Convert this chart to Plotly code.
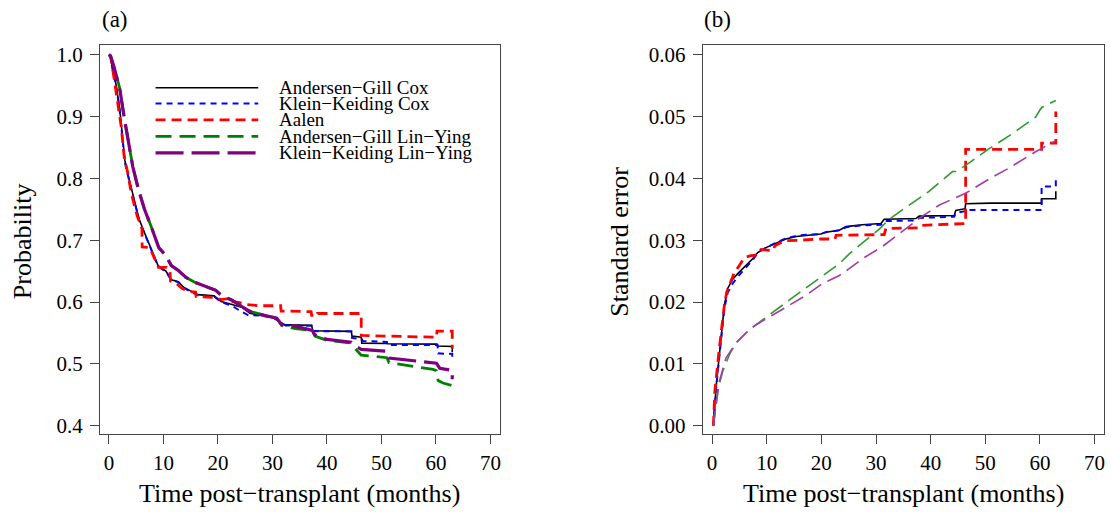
import plotly.graph_objects as go

# ---- panel (a): survival probability estimates ----
t_agc = [0, 0.3, 0.64, 1.3, 1.95, 2.41, 2.93, 3.72, 4.57, 5.55, 6.53, 7.52, 9.02, 10.45, 11.45, 12.75,
         13.7, 15.4, 16.3, 19.3, 20.6, 22.6, 24.5, 25.85, 28.5, 30.1, 31.7, 32.4, 37.2, 37.4, 44.5,
         44.6, 46.3, 46.4, 51.0, 51.1, 60.2, 60.3, 63.0, 63.0]
p_agc = [1.0, 0.998, 0.979, 0.952, 0.915, 0.872, 0.829, 0.798, 0.766, 0.734, 0.712, 0.691, 0.659, 0.650,
         0.636, 0.633, 0.624, 0.616, 0.612, 0.610, 0.601, 0.596, 0.591, 0.582, 0.578, 0.575, 0.566, 0.563,
         0.5625, 0.5535, 0.5525, 0.545, 0.543, 0.5335, 0.533, 0.5325, 0.532, 0.529, 0.528, 0.519]

t_kkc = [0, 0.3, 0.64, 1.3, 1.95, 2.41, 2.93, 3.72, 4.57, 5.55, 6.53, 7.52, 9.02, 10.45, 11.45, 12.75,
         13.7, 15.4, 16.3, 19.3, 20.6, 22.6, 24.0, 25.5, 27.7, 30.1, 31.7, 32.4, 37.2, 37.4, 44.5,
         44.6, 46.4, 46.6, 51.0, 51.1, 60.3, 60.4, 63.0, 63.0]
p_kkc = [1.0, 0.998, 0.978, 0.950, 0.912, 0.869, 0.826, 0.796, 0.764, 0.732, 0.711, 0.690, 0.658, 0.649,
         0.636, 0.632, 0.623, 0.615, 0.611, 0.609, 0.600, 0.594, 0.586, 0.579, 0.578, 0.575, 0.565, 0.562,
         0.5615, 0.553, 0.5525, 0.542, 0.540, 0.537, 0.5355, 0.5305, 0.5305, 0.517, 0.516, 0.504]

t_aalen = [0, 0.3, 0.64, 1.0, 1.6, 2.27, 2.8, 3.46, 4.1, 4.76, 5.2, 6.07, 6.1, 7.5, 8.15, 9.0, 9.1, 10.6,
           11.2, 11.3, 12.4, 13.4, 14.7, 15.9, 16.0, 19.3, 20.6, 22.2, 22.3, 24.0, 25.0, 27.7, 31.5, 31.6,
           37.1, 37.2, 38.3, 38.3, 46.3, 46.3, 60.1, 60.2, 63.0, 63.0]
p_aalen = [1.0, 0.998, 0.980, 0.960, 0.925, 0.883, 0.835, 0.809, 0.776, 0.755, 0.739, 0.718, 0.689, 0.688,
           0.675, 0.659, 0.656, 0.656, 0.651, 0.634, 0.630, 0.622, 0.617, 0.616, 0.609, 0.6075, 0.604,
           0.606, 0.601, 0.599, 0.596, 0.594, 0.594, 0.5855, 0.5845, 0.5785, 0.5785, 0.5815, 0.5815,
           0.546, 0.543, 0.553, 0.553, 0.525]

t_agly = [0, 0.3, 0.97, 1.95, 2.8, 3.6, 4.38, 5.42, 6.53, 7.84, 9.15, 10.45, 11.45, 12.75, 14.1, 16.0,
          17.66, 19.6, 20.6, 22.6, 24.5, 25.85, 29.8, 30.8, 31.7, 32.3, 34.2, 37.3, 37.8, 40.0, 44.2,
          45.1, 46.3, 51.0, 51.4, 59.5, 60.1, 60.4, 61.3, 63.0, 63.0]
p_agly = [1.0, 0.998, 0.979, 0.947, 0.899, 0.856, 0.819, 0.782, 0.750, 0.720, 0.688, 0.675, 0.659, 0.651,
          0.640, 0.631, 0.626, 0.619, 0.611, 0.603, 0.592, 0.585, 0.576, 0.574, 0.562, 0.5605, 0.557,
          0.554, 0.545, 0.538, 0.534, 0.526, 0.514, 0.510, 0.502, 0.491, 0.489, 0.473, 0.469, 0.465, 0.461]

t_kkly = [0, 0.3, 0.97, 1.95, 2.8, 3.6, 4.38, 5.42, 6.53, 7.84, 9.15, 10.45, 11.45, 12.75, 14.1, 16.0,
          17.66, 19.6, 20.6, 22.6, 24.5, 25.85, 27.7, 30.8, 31.7, 34.2, 37.3, 37.8, 40.0, 42.4, 44.5,
          45.4, 46.3, 51.0, 51.4, 60.1, 60.7, 63.0, 63.0]
p_kkly = [1.0, 0.998, 0.979, 0.947, 0.899, 0.856, 0.819, 0.782, 0.750, 0.720, 0.688, 0.675, 0.659, 0.651,
          0.640, 0.631, 0.626, 0.619, 0.611, 0.603, 0.592, 0.585, 0.580, 0.574, 0.5635, 0.561, 0.554,
          0.547, 0.5395, 0.537, 0.535, 0.528, 0.5235, 0.5205, 0.5095, 0.501, 0.493, 0.4895, 0.475]

# ---- panel (b): standard errors (in units of 0.01) ----
t_se_agc = [0.24, 0.73, 1.34, 2.25, 2.86, 3.78, 4.7, 5.6, 6.5, 7.43, 8.35, 9.87, 11.7, 13.5, 15.4, 17.2,
            19.9, 20.8, 23.3, 24.5, 27.5, 30.9, 31.5, 37.3, 37.9, 44.3, 44.6, 46.3, 46.4, 51.0, 60.3,
            60.3, 62.9, 62.9]
se_agc = [0, 0.62, 1.15, 1.95, 2.22, 2.37, 2.46, 2.54, 2.63, 2.70, 2.80, 2.88, 2.95, 3.02, 3.06, 3.08,
          3.10, 3.13, 3.16, 3.22, 3.25, 3.27, 3.34, 3.35, 3.39, 3.40, 3.48, 3.51, 3.59, 3.60, 3.60,
          3.67, 3.67, 3.79]

t_se_kkc = [0.24, 0.73, 1.34, 2.25, 2.86, 3.78, 4.7, 5.6, 6.5, 7.43, 8.35, 9.87, 11.7, 13.5, 15.4, 17.2,
            19.9, 20.8, 23.3, 24.5, 27.5, 30.9, 31.5, 37.3, 37.9, 44.3, 44.6, 46.3, 46.4, 60.3, 60.3,
            62.9, 62.9]
se_kkc = [0, 0.60, 1.12, 1.90, 2.15, 2.30, 2.41, 2.50, 2.60, 2.68, 2.80, 2.88, 2.96, 3.03, 3.07, 3.09,
          3.10, 3.13, 3.16, 3.21, 3.24, 3.25, 3.31, 3.32, 3.36, 3.38, 3.44, 3.47, 3.49, 3.49, 3.87,
          3.87, 4.01]

t_se_aalen = [0.24, 0.5, 1.34, 2.25, 2.68, 3.17, 4.08, 5.0, 5.9, 7.1, 8.2, 8.96, 11.1, 11.5, 13.2, 16.0,
              19.9, 22.5, 22.7, 31.5, 31.8, 37.9, 38.2, 46.4, 46.4, 60.3, 60.3, 62.9, 62.9]
se_aalen = [0, 0.55, 1.26, 1.95, 2.16, 2.27, 2.48, 2.59, 2.72, 2.75, 2.76, 2.85, 2.83, 2.91, 2.99, 3.00,
            3.02, 3.02, 3.08, 3.09, 3.19, 3.20, 3.24, 3.27, 4.47, 4.47, 4.57, 4.57, 5.08]

t_se_agly = [0.24, 1.0, 1.95, 3.17, 4.39, 6.2, 8.0, 11.1, 14.1, 17.2, 20.2, 23.3, 25.1, 27.5, 30.6, 32.4,
             37.3, 39.7, 44.0, 44.6, 46.4, 50.7, 54.4, 59.2, 60.1, 60.4, 62.9]
se_agly = [0, 0.56, 0.88, 1.15, 1.34, 1.50, 1.63, 1.84, 2.03, 2.23, 2.42, 2.62, 2.78, 2.96, 3.18, 3.34,
           3.65, 3.79, 4.11, 4.11, 4.21, 4.48, 4.69, 4.99, 5.12, 5.15, 5.26]

t_se_kkly = [0.24, 1.34, 2.56, 4.39, 6.2, 8.0, 11.1, 14.1, 17.2, 20.2, 23.3, 25.1, 27.5, 31.2, 35.5, 38.5,
             41.6, 46.4, 50.7, 54.4, 59.2, 62.9]
se_kkly = [0, 0.72, 1.10, 1.34, 1.50, 1.63, 1.79, 1.95, 2.11, 2.30, 2.43, 2.54, 2.70, 2.90, 3.18, 3.39,
           3.57, 3.76, 3.99, 4.17, 4.43, 4.61]

labels = ["Andersen\u2212Gill Cox", "Klein\u2212Keiding Cox", "Aalen",
          "Andersen\u2212Gill Lin\u2212Ying", "Klein\u2212Keiding Lin\u2212Ying"]
x_ticks = [0, 10, 20, 30, 40, 50, 60, 70]

FONT = "Liberation Serif"

# line styles (panel a, panel b)
style_a = [dict(color="black", width=1.6),
           dict(color="#0000FF", width=2, dash="6px,5px"),
           dict(color="#FF0000", width=2.8, dash="10px,6px"),
           dict(color="#008000", width=2.8, dash="16px,8px"),
           dict(color="#800080", width=3.2, dash="28px,8px")]
style_b = [dict(color="black", width=1.6),
           dict(color="#0000FF", width=2, dash="6px,5px"),
           dict(color="#FF0000", width=2.8, dash="10px,6px"),
           dict(color="#2E9B2E", width=1.6, dash="15px,7px"),
           dict(color="#A33CA8", width=1.6, dash="15px,7px")]

fig = go.Figure()

series_a = [(t_agc, p_agc), (t_kkc, p_kkc), (t_aalen, p_aalen), (t_agly, p_agly), (t_kkly, p_kkly)]
for (t, p), st, name in zip(series_a, style_a, labels):
    fig.add_trace(go.Scatter(x=t, y=p, mode="lines", line=st, name=name,
                             showlegend=False, xaxis="x", yaxis="y"))

series_b = [(t_se_agc, se_agc), (t_se_kkc, se_kkc), (t_se_aalen, se_aalen),
            (t_se_agly, se_agly), (t_se_kkly, se_kkly)]
for (t, s), st, name in zip(series_b, style_b, labels):
    fig.add_trace(go.Scatter(x=t, y=[v / 100 for v in s], mode="lines", line=st, name=name,
                             showlegend=False, xaxis="x2", yaxis="y2"))

# hand-made legend inside panel (a), like R's legend()
leg_y = [0.9466, 0.921, 0.8945, 0.8678, 0.8411]
for yy, st, name in zip(leg_y, style_a, labels):
    fig.add_shape(type="line", xref="x", yref="y", x0=8.56, x1=27.4, y0=yy, y1=yy,
                  line=st)
    fig.add_annotation(xref="x", yref="y", x=30.9, y=yy, text=name, showarrow=False,
                       xanchor="left", yanchor="middle",
                       font=dict(family=FONT, size=19, color="black"))

axis_common = dict(showgrid=False, zeroline=False, showline=True, mirror=True,
                   linecolor="#444", linewidth=1, ticks="outside", ticklen=9,
                   tickwidth=1, tickcolor="#444",
                   tickfont=dict(family=FONT, size=21, color="black"))

fig.update_layout(
    width=1111, height=516,
    margin=dict(l=0, r=0, t=0, b=0),
    paper_bgcolor="white", plot_bgcolor="white",
    xaxis=dict(domain=[100 / 1111, 500 / 1111], range=[-1.65, 71.68],
               tickvals=x_ticks, anchor="y", **axis_common),
    yaxis=dict(domain=[1 - 437.5 / 516, 1 - 44 / 516], range=[0.38594, 1.01486],
               tickvals=[0.4, 0.5, 0.6, 0.7, 0.8, 0.9, 1.0], tickformat=".1f",
               anchor="x", ticklabelstandoff=3, **axis_common),
    xaxis2=dict(domain=[703.3 / 1111, 1105 / 1111], range=[-1.72, 71.72],
                tickvals=x_ticks, anchor="y2", **axis_common),
    yaxis2=dict(domain=[1 - 437.5 / 516, 1 - 44 / 516], range=[-0.0014, 0.061486],
                tickvals=[0, 0.01, 0.02, 0.03, 0.04, 0.05, 0.06], tickformat=".2f",
                anchor="x2", ticklabelstandoff=3, **axis_common),
)

title_font = dict(family=FONT, size=26, color="black")
texts = [
    (300 / 1111, 1 - 497 / 516, "Time post\u2212transplant (months)", 0),
    (904 / 1111, 1 - 497 / 516, "Time post\u2212transplant (months)", 0),
    (22 / 1111, 1 - 242 / 516, "Probability", -90),
    (620 / 1111, 1 - 242 / 516, "Standard error", -90),
]
for x, y, txt, ang in texts:
    fig.add_annotation(xref="paper", yref="paper", x=x, y=y, text=txt, showarrow=False,
                       textangle=ang, xanchor="center", yanchor="middle", font=title_font)

for x, txt in [(100 / 1111, "(a)"), (703 / 1111, "(b)")]:
    fig.add_annotation(xref="paper", yref="paper", x=x, y=1 - 18 / 516, text=txt,
                       showarrow=False, xanchor="left", yanchor="middle",
                       font=dict(family=FONT, size=23, color="black"))

# drop the browser's default 8px body margin so the figure sits at the page corner
fig.write_html("out.html", config={"displayModeBar": False},
               post_script="document.body.style.margin='0px';")
